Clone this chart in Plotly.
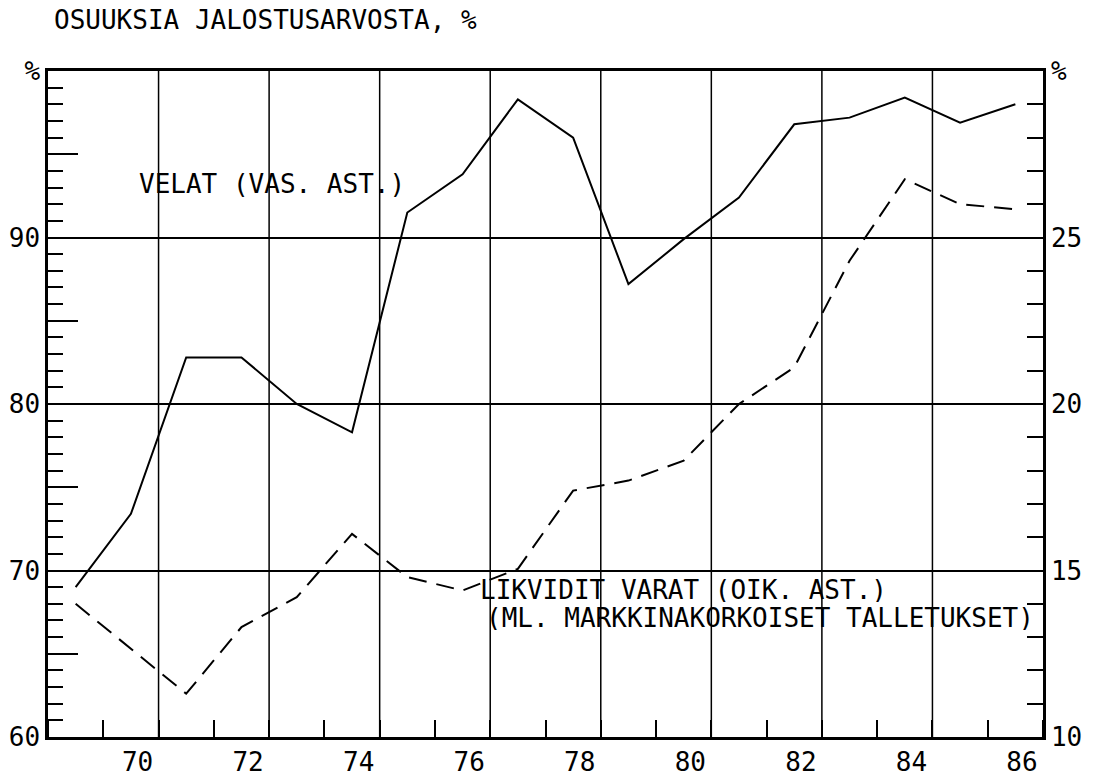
import plotly.graph_objects as go

# ---- data ----
years = list(range(1969, 1987))
velat = [69.0, 73.4, 82.8, 82.8, 80.0, 78.3, 91.5, 93.8, 98.3, 96.0,
         87.2, 89.9, 92.4, 96.8, 97.2, 98.4, 96.9, 98.0]          # left axis
likvidit = [14.0, 12.65, 11.3, 13.3, 14.2, 16.1, 14.8, 14.4, 15.05, 17.4,
            17.7, 18.3, 20.0, 21.1, 24.3, 26.75, 26.0, 25.85]      # right axis

label_years = [1970, 1972, 1974, 1976, 1978, 1980, 1982, 1984, 1986]
label_text = ["70", "72", "74", "76", "78", "80", "82", "84", "86"]
grid_years = [1970.5, 1972.5, 1974.5, 1976.5, 1978.5, 1980.5, 1982.5, 1984.5]

left_ticks = [60, 65, 70, 75, 80, 85, 90, 95, 100]
left_text = ["60", "", "70", "", "80", "", "90", "", "%"]
right_ticks = [10, 15, 20, 25, 30]
right_text = ["10", "15", "20", "25", "%"]

title = "OSUUKSIA JALOSTUSARVOSTA, %"
FONT = "DejaVu Sans Mono"

fig = go.Figure()
fig.add_trace(go.Scatter(x=years, y=velat, mode="lines",
                         line=dict(color="black", width=2), yaxis="y",
                         showlegend=False))
fig.add_trace(go.Scatter(x=years, y=likvidit, mode="lines",
                         line=dict(color="black", width=2, dash="18px,10px"),
                         yaxis="y2", showlegend=False))

for g in grid_years:
    fig.add_shape(type="line", xref="x", yref="paper", x0=g, x1=g, y0=0, y1=1,
                  line=dict(color="black", width=1.5), layer="below")

fig.add_annotation(text="VELAT (VAS. AST.)", x=1970.11, y=93.2, xref="x", yref="y",
                   xanchor="left", yanchor="middle", showarrow=False,
                   font=dict(family=FONT, size=26, color="black"))
fig.add_annotation(text="LIKVIDIT VARAT (OIK. AST.)", x=1976.28, y=68.8, xref="x", yref="y",
                   xanchor="left", yanchor="middle", showarrow=False, height=24,
                   font=dict(family=FONT, size=26, color="black"))
fig.add_annotation(text="(ML. MARKKINAKORKOISET TALLETUKSET)", x=1976.39, y=67.15,
                   xref="x", yref="y", xanchor="left", yanchor="middle", showarrow=False,
                   height=24, font=dict(family=FONT, size=26, color="black"))

fig.update_layout(
    width=1093, height=777,
    margin=dict(l=48, r=50, t=71, b=40, autoexpand=False),
    paper_bgcolor="white", plot_bgcolor="white",
    font=dict(family=FONT, size=26, color="black"),
    title=dict(text=title, x=54 / 1093, xref="container", xanchor="left",
               y=1 - 20 / 777, yref="container", yanchor="middle",
               font=dict(family=FONT, size=26, color="black")),
    xaxis=dict(range=[1968.5, 1986.5], tickmode="array", automargin=False,
               tickvals=[y + 0.12 for y in label_years], ticktext=label_text,
               ticks="", showgrid=False, zeroline=False,
               showline=True, linecolor="black", linewidth=2.5, mirror=True,
               minor=dict(tickmode="linear", tick0=1968.5, dtick=1, ticks="inside",
                          ticklen=17, tickwidth=2, tickcolor="black", showgrid=False),
               tickfont=dict(family=FONT, size=26)),
    yaxis=dict(range=[60, 100], tickmode="array", tickvals=left_ticks, ticktext=left_text,
               automargin=False,
               ticks="inside", ticklen=30, tickwidth=2, tickcolor="black",
               showgrid=False, zeroline=False,
               showline=True, linecolor="black", linewidth=2.5,
               minor=dict(tickmode="linear", tick0=60, dtick=1, ticks="inside",
                          ticklen=15, tickwidth=2, tickcolor="black", showgrid=False),
               tickfont=dict(family=FONT, size=26)),
    yaxis2=dict(range=[10, 30], overlaying="y", side="right", tickmode="array",
                tickvals=right_ticks, ticktext=right_text, automargin=False,
                ticks="inside", ticklen=16, tickwidth=2, tickcolor="black",
                showgrid=True, gridcolor="black", gridwidth=1.5, zeroline=False,
                showline=True, linecolor="black", linewidth=2.5,
                minor=dict(tickmode="linear", tick0=10, dtick=1, ticks="inside",
                           ticklen=16, tickwidth=2, tickcolor="black", showgrid=False),
                tickfont=dict(family=FONT, size=26)),
)

fig.write_html("out.html", config={"displayModeBar": False},
               post_script="document.body.style.margin='0';document.body.style.overflow='hidden';")
